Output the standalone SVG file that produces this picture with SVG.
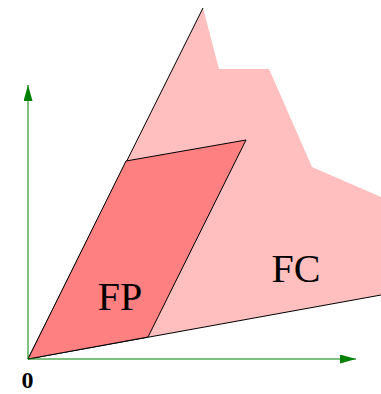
<svg xmlns="http://www.w3.org/2000/svg" width="381" height="394" viewBox="0 0 381 394">
<defs>
<style>
.axis{stroke:#008000;stroke-width:1;fill:none}
.edge{stroke:#000;stroke-width:1;fill:none}
.lbl{font-family:"Liberation Serif","DejaVu Serif",serif;fill:#000}
</style>
<marker id="arr" viewBox="0 0 16 9" refX="16" refY="4.5" markerWidth="16" markerHeight="9" markerUnits="userSpaceOnUse" orient="auto">
<path d="M0,0 L16,4.5 L0,9 Z" fill="#008000"/>
</marker>
</defs>
<g id="FC">
<polygon points="28,359 203,8 219,69 269,69 312,167 381,197 381,295" fill="#ffbfbf"/>
<polyline class="edge" points="203,8 28,359 381,295"/>
<text class="lbl" x="296" y="282" font-size="40" text-anchor="middle">FC</text>
</g>
<g id="FP">
<polygon points="28,359 126,161 246,140 148,337" fill="#ff8080" stroke="#000" stroke-width="1"/>
<text class="lbl" x="120" y="310" font-size="40" text-anchor="middle">FP</text>
</g>
<g id="connectors">
<line class="axis" x1="28" y1="359" x2="28" y2="85" marker-end="url(#arr)"/>
<line class="axis" x1="28" y1="359" x2="356" y2="359" marker-end="url(#arr)"/>
</g>
<g id="origin">
<text class="lbl" x="27.5" y="388" font-size="24" font-weight="bold" text-anchor="middle">0</text>
</g>
</svg>
